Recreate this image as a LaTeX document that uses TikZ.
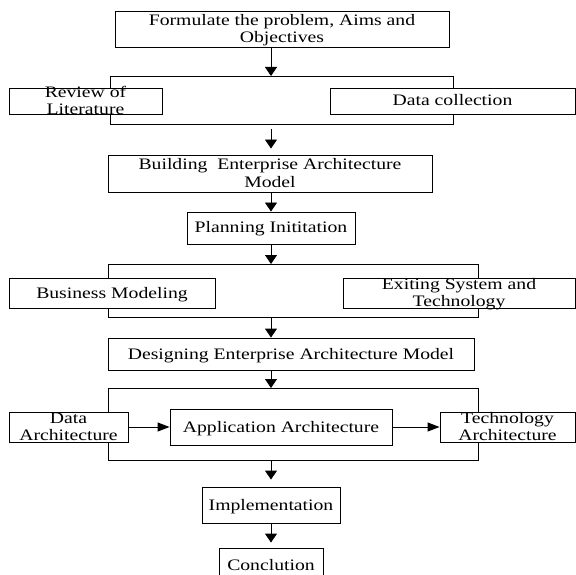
\documentclass[tikz,border=0pt]{standalone}
\usepackage{fontspec}
\setmainfont{Liberation Serif}
\usepackage{graphicx}
\usetikzlibrary{arrows.meta}
% centred, horizontally widened text block for the boxes
\newcommand{\boxtext}[1]{\scalebox{1.23}[1]{\begin{tabular}{@{}c@{}}#1\end{tabular}}}

\begin{document}
\begin{tikzpicture}[x=1pt, y=-1pt, line width=0.9pt,
  stepbox/.style={draw, fill=white, inner sep=0pt},
  txt/.style={inner sep=0pt, font=\fontsize{16}{17.5}\selectfont},
  every label/.style={txt, yshift=-1.5pt},
  downarrow/.style={-{Triangle[width=12pt,length=9pt]}},
  rightarrow/.style={-{Triangle[width=9pt,length=12pt]}}]

\useasboundingbox (0,0) rectangle (576,575);

% vertical axis of the main flow
\coordinate (spine) at (271,0);

% grouping frames
\coordinate (f1a) at (110,76);  \coordinate (f1b) at (453,124);
\coordinate (f2a) at (108,264); \coordinate (f2b) at (478,317);
\coordinate (f3a) at (108,388); \coordinate (f3b) at (478,460);
\draw (f1a) rectangle (f1b);
\draw (f2a) rectangle (f2b);
\draw (f3a) rectangle (f3b);

% process boxes
\node[stepbox, minimum width=334pt, minimum height=36pt,
  label={center:{\boxtext{Formulate the problem, Aims and\\Objectives}}}] (form) at (282,29) {};
\node[stepbox, minimum width=153pt, minimum height=26pt,
  label={center:{\boxtext{Review of\\Literature}}}] (rev) at (85.5,101) {};
\node[stepbox, minimum width=245pt, minimum height=26pt,
  label={center:{\boxtext{Data collection}}}] (dc) at (452.5,101) {};
\node[stepbox, minimum width=324pt, minimum height=37pt,
  label={center:{\boxtext{Building\ \ Enterprise Architecture\\Model}}}] (bld) at (270,173.5) {};
\node[stepbox, minimum width=168pt, minimum height=32pt,
  label={center:{\boxtext{Planning Inititation}}}] (pln) at (271,228) {};
\node[stepbox, minimum width=206pt, minimum height=30pt,
  label={center:{\boxtext{Business Modeling}}}] (bm) at (112,293) {};
\node[stepbox, minimum width=232pt, minimum height=30pt,
  label={center:{\boxtext{Exiting System and\\Technology}}}] (es) at (459,293) {};
\node[stepbox, minimum width=366pt, minimum height=32pt,
  label={center:{\boxtext{Designing Enterprise Architecture Model}}}] (des) at (291,354) {};
\node[stepbox, minimum width=119pt, minimum height=30pt,
  label={center:{\boxtext{Data\\Architecture}}}] (da) at (68.5,427) {};
\node[stepbox, minimum width=222pt, minimum height=36pt,
  label={center:{\boxtext{Application Architecture}}}] (aa) at (281,427) {};
\node[stepbox, minimum width=135pt, minimum height=30pt,
  label={center:{\boxtext{Technology\\Architecture}}}] (ta) at (507.5,427) {};
\node[stepbox, minimum width=138pt, minimum height=36pt,
  label={center:{\boxtext{Implementation}}}] (imp) at (271,505) {};
\node[stepbox, minimum width=104pt, minimum height=34pt,
  label={center:{\boxtext{Conclution}}}] (con) at (271,565) {};

% flow arrows
\draw[downarrow] (form.south -| spine) -- (f1a -| spine);
\draw[downarrow, shorten <=5pt, shorten >=6pt] (f1b -| spine) -- (bld.north -| spine);
\draw[downarrow] (bld.south -| spine) -- (pln.north -| spine);
\draw[downarrow] (pln.south -| spine) -- (f2a -| spine);
\draw[downarrow] (f2b -| spine) -- (des.north -| spine);
\draw[downarrow] (des.south -| spine) -- (f3a -| spine);
\draw[downarrow, shorten >=7pt] (f3b -| spine) -- (imp.north -| spine);
\draw[downarrow, shorten >=5pt] (imp.south -| spine) -- (con.north -| spine);
\draw[rightarrow] (da.east) -- (aa.west);
\draw[rightarrow] (aa.east) -- (ta.west);
\end{tikzpicture}
\end{document}
